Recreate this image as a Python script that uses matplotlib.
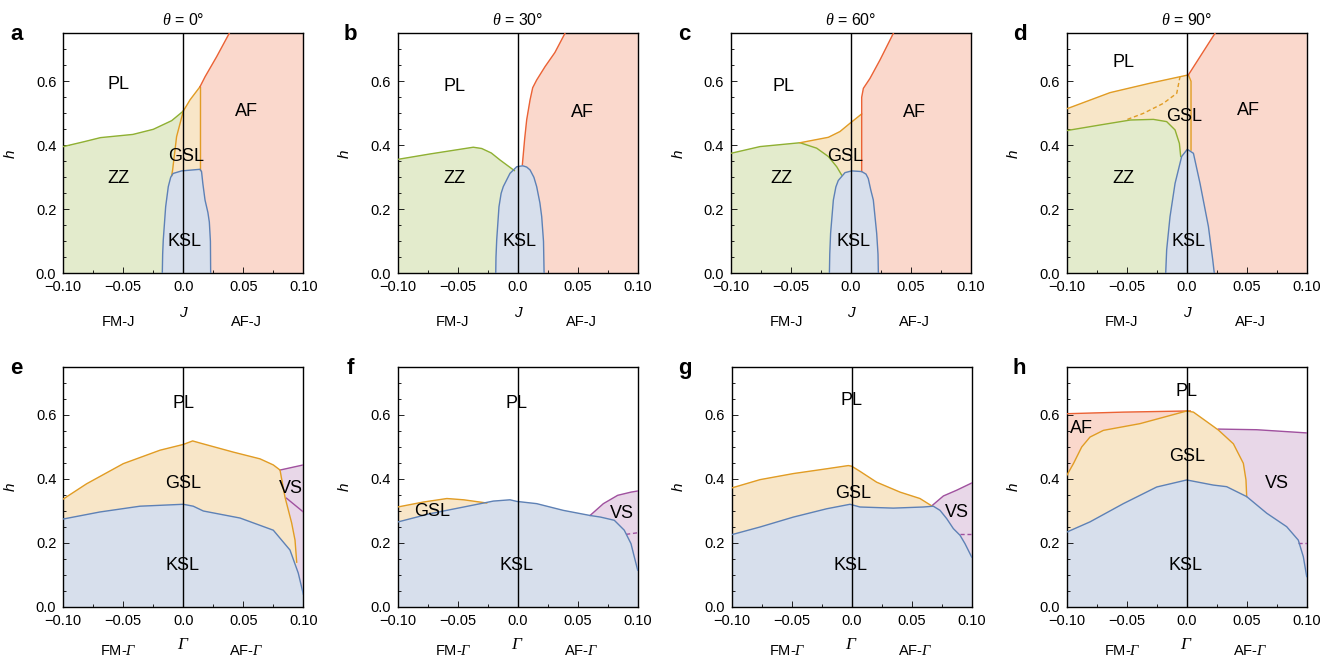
import matplotlib
matplotlib.use("Agg")
import matplotlib.pyplot as plt
from matplotlib.ticker import MultipleLocator

plt.rcParams['font.family'] = ['Liberation Sans', 'DejaVu Sans']
plt.rcParams['mathtext.fontset'] = 'custom'
plt.rcParams['mathtext.it'] = 'Liberation Serif:italic'
# capital Greek goes to the rm slot in mathtext; make it italic serif too
plt.rcParams['mathtext.rm'] = 'Liberation Serif:italic'

XMIN, XMAX, YMAX = -0.1, 0.1, 0.75
X_TICKS = [-0.1, -0.05, 0.0, 0.05, 0.1]
X_TICK_LABELS = ['\u22120.10', '\u22120.05', '0.0', '0.05', '0.10']
Y_TICKS = [0.0, 0.2, 0.4, 0.6]
Y_TICK_LABELS = ['0.0', '0.2', '0.4', '0.6']

THETAS = [0, 30, 60, 90]
LETTERS_TOP = ['a', 'b', 'c', 'd']
LETTERS_BOT = ['e', 'f', 'g', 'h']

LINE = {'ksl': '#5e81b5', 'gsl': '#e19c24', 'zz': '#8fb032', 'af': '#eb6235', 'vs': '#a0519f'}
FILL = {'ksl': '#d7dfec', 'gsl': '#f8e6c8', 'zz': '#e3ebcc', 'af': '#fad8cc', 'vs': '#e8d7e8'}

# ---- panel a (theta = 0, J axis) ----
A_ZZ_TOP = [(-0.1, 0.396), (-0.083, 0.411), (-0.069, 0.424), (-0.042, 0.434), (-0.025, 0.45),
            (-0.0097, 0.477), (0.0, 0.507)]
A_GSL_LEFT = [(0.0, 0.507), (-0.0056, 0.427), (-0.0089, 0.323), (-0.0097, 0.305)]
A_GSL_TOP = [(0.0, 0.507), (0.0056, 0.542), (0.0139, 0.583)]
A_GSL_RIGHT = [(0.0139, 0.583), (0.0139, 0.322)]
A_AF_TOP = [(0.0139, 0.583), (0.0181, 0.614), (0.0278, 0.677), (0.0383, 0.75)]
A_KSL = [(-0.0175, 0.0), (-0.0172, 0.06), (-0.0167, 0.104), (-0.0147, 0.208), (-0.0125, 0.271),
         (-0.0105, 0.3), (-0.0085, 0.312), (-0.0014, 0.32), (0.0139, 0.325), (0.0152, 0.318),
         (0.0163, 0.28), (0.0181, 0.229), (0.0205, 0.19), (0.0217, 0.16), (0.0226, 0.1),
         (0.0228, 0.0)]
A_LABELS = [('PL', -0.054, 0.589), ('AF', 0.0528, 0.505), ('GSL', 0.002, 0.365),
            ('ZZ', -0.0536, 0.297), ('KSL', 0.0014, 0.099)]

# ---- panel b (theta = 30) ----
B_ZZ_TOP = [(-0.1, 0.356), (-0.073, 0.373), (-0.037, 0.394), (-0.03, 0.39), (-0.022, 0.376),
            (-0.0147, 0.354), (-0.0028, 0.321)]
B_AF_EDGE = [(0.0039, 0.34), (0.0058, 0.42), (0.0075, 0.48), (0.0103, 0.542), (0.0125, 0.58),
             (0.0158, 0.604), (0.0228, 0.646), (0.031, 0.69), (0.0394, 0.75)]
B_KSL = [(-0.0183, 0.0), (-0.0181, 0.05), (-0.0175, 0.104), (-0.0156, 0.208), (-0.0138, 0.25),
         (-0.012, 0.271), (-0.0064, 0.3125), (-0.0008, 0.333), (0.0042, 0.336), (0.0075, 0.332),
         (0.0103, 0.323), (0.0135, 0.3), (0.0158, 0.271), (0.0185, 0.22), (0.02, 0.177),
         (0.0215, 0.1), (0.022, 0.0)]
B_LABELS = [('PL', -0.053, 0.585), ('AF', 0.0539, 0.502), ('ZZ', -0.053, 0.297),
            ('KSL', 0.0014, 0.099)]

# ---- panel c (theta = 60) ----
C_ZZ_TOP = [(-0.1, 0.375), (-0.0758, 0.396), (-0.0425, 0.408), (-0.0286, 0.391), (-0.0189, 0.365),
            (-0.0119, 0.333), (-0.0078, 0.307)]
C_GSL_TOP = [(-0.0425, 0.408), (-0.0189, 0.425), (-0.0092, 0.443), (-0.0008, 0.469), (0.0089, 0.498)]
C_AF_EDGE = [(0.0089, 0.318), (0.0089, 0.55), (0.0103, 0.578), (0.0158, 0.609), (0.0242, 0.667),
             (0.0325, 0.729), (0.0353, 0.75)]
C_KSL = [(-0.018, 0.0), (-0.0177, 0.06), (-0.017, 0.125), (-0.0147, 0.229), (-0.0126, 0.27),
         (-0.0106, 0.29), (-0.005, 0.3146), (0.0006, 0.32), (0.0089, 0.318), (0.0125, 0.31),
         (0.0144, 0.296), (0.0165, 0.26), (0.0186, 0.229), (0.0214, 0.125), (0.0225, 0.06),
         (0.0228, 0.0)]
C_LABELS = [('PL', -0.0564, 0.585), ('AF', 0.0533, 0.502), ('GSL', -0.005, 0.365),
            ('ZZ', -0.0578, 0.297), ('KSL', 0.0019, 0.099)]

# ---- panel d (theta = 90) ----
D_GSL_TOP = [(-0.1, 0.514), (-0.0639, 0.5646), (-0.0306, 0.594), (0.0014, 0.62)]
D_GSL_RIGHT = [(0.0014, 0.62), (0.0036, 0.6), (0.0036, 0.385)]
D_AF_TOP = [(0.0014, 0.62), (0.0236, 0.75)]
D_GSL_DASH = [(-0.0494, 0.481), (-0.036, 0.5), (-0.0195, 0.531), (-0.0083, 0.5625), (-0.0056, 0.614)]
D_ZZ_TOP = [(-0.1, 0.446), (-0.0722, 0.4635), (-0.047, 0.479), (-0.0278, 0.481), (-0.0167, 0.474),
            (-0.0097, 0.448), (-0.0061, 0.406), (-0.005, 0.365)]
D_KSL = [(-0.0175, 0.0), (-0.0167, 0.073), (-0.0139, 0.177), (-0.0097, 0.281), (-0.0042, 0.365),
         (0.0005, 0.3875), (0.0056, 0.375), (0.0111, 0.281), (0.0181, 0.146), (0.0217, 0.042),
         (0.023, 0.0)]
D_LABELS = [('PL', -0.0528, 0.658), ('AF', 0.0514, 0.51), ('GSL', -0.0022, 0.49),
            ('ZZ', -0.0528, 0.297), ('KSL', 0.0014, 0.099)]

# ---- panel e (theta = 0, Gamma axis) ----
E_GSL_TOP = [(-0.1, 0.3375), (-0.0806, 0.385), (-0.05, 0.448), (-0.0194, 0.49), (0.0, 0.508),
             (0.0078, 0.519), (0.0139, 0.5125), (0.0417, 0.484), (0.0639, 0.463), (0.075, 0.444),
             (0.0806, 0.428), (0.0847, 0.344), (0.0903, 0.2625), (0.0931, 0.209), (0.0945, 0.14)]
E_VS_TOP = [(0.0806, 0.428), (0.1, 0.444)]
E_VS_DASH = [(0.086, 0.34), (0.1, 0.297)]
E_KSL_TOP = [(-0.1, 0.275), (-0.0694, 0.297), (-0.0361, 0.315), (0.0, 0.321), (0.0083, 0.315),
             (0.0167, 0.3), (0.0473, 0.278), (0.075, 0.24), (0.0889, 0.178), (0.0958, 0.106),
             (0.1, 0.04)]
E_LABELS = [('PL', 0.0, 0.635), ('GSL', 0.0, 0.385), ('VS', 0.0894, 0.37), ('KSL', -0.0008, 0.13)]

# ---- panel f (theta = 30) ----
F_GSL_TOP = [(-0.1, 0.3125), (-0.0786, 0.328), (-0.059, 0.339), (-0.045, 0.335), (-0.0258, 0.325)]
F_VS_TOP = [(0.0603, 0.286), (0.0714, 0.323), (0.0833, 0.349), (0.0944, 0.359), (0.1, 0.3625)]
F_VS_DASH = [(0.0903, 0.227), (0.1, 0.232)]
F_KSL_TOP = [(-0.1, 0.2656), (-0.073, 0.2917), (-0.045, 0.3125), (-0.0203, 0.331), (-0.0064, 0.335),
             (-0.0008, 0.33), (0.0158, 0.323), (0.038, 0.302), (0.0603, 0.286), (0.069, 0.281),
             (0.0805, 0.271), (0.0888, 0.24), (0.0944, 0.198), (0.0972, 0.156), (0.1, 0.115)]
F_LABELS = [('PL', -0.0008, 0.635), ('GSL', -0.0717, 0.297), ('VS', 0.0867, 0.292),
            ('KSL', -0.0008, 0.13)]

# ---- panel g (theta = 60) ----
G_GSL_TOP = [(-0.1, 0.372), (-0.0764, 0.398), (-0.0486, 0.417), (-0.0208, 0.432), (-0.0028, 0.442),
             (0.0, 0.44), (0.0069, 0.424), (0.0208, 0.39), (0.0403, 0.359), (0.0569, 0.339),
             (0.0667, 0.316)]
G_VS_TOP = [(0.0667, 0.316), (0.0764, 0.347), (0.0875, 0.365), (0.1, 0.3875)]
G_VS_DASH = [(0.0903, 0.229), (0.1, 0.229)]
G_KSL_TOP = [(-0.1, 0.226), (-0.0764, 0.25), (-0.0486, 0.281), (-0.0208, 0.307), (-0.0014, 0.321),
             (0.0069, 0.3125), (0.0347, 0.309), (0.0597, 0.3125), (0.068, 0.315), (0.0736, 0.302),
             (0.0792, 0.276), (0.0847, 0.245), (0.0903, 0.224), (0.0944, 0.198), (0.1, 0.156)]
G_LABELS = [('PL', 0.0, 0.646), ('GSL', 0.0008, 0.354), ('VS', 0.0875, 0.294), ('KSL', -0.0008, 0.13)]

# ---- panel h (theta = 90) ----
H_AF_TOP = [(-0.1, 0.604), (-0.0528, 0.609), (0.0, 0.6125), (0.003, 0.6125)]
H_GSL_TOP = [(-0.1, 0.411), (-0.0944, 0.448), (-0.0875, 0.5), (-0.0806, 0.531), (-0.0694, 0.552),
             (-0.0389, 0.573), (0.0, 0.6125), (0.0056, 0.609), (0.0153, 0.583), (0.0264, 0.553),
             (0.0389, 0.51), (0.0472, 0.449), (0.0494, 0.397), (0.05, 0.345)]
H_VS_TOP = [(0.0264, 0.556), (0.0583, 0.554), (0.1, 0.544)]
H_VS_DASH = [(0.093, 0.199), (0.1, 0.199)]
H_KSL_TOP = [(-0.1, 0.234), (-0.0806, 0.266), (-0.0528, 0.323), (-0.025, 0.375), (0.0, 0.397),
             (0.0222, 0.381), (0.0333, 0.376), (0.05, 0.345), (0.0667, 0.293), (0.0833, 0.251),
             (0.093, 0.209), (0.0972, 0.157), (0.1, 0.095)]
H_LABELS = [('PL', 0.0, 0.672), ('AF', -0.0875, 0.557), ('GSL', 0.0, 0.469), ('VS', 0.075, 0.385),
            ('KSL', -0.0014, 0.13)]


def under(curve):
    return curve + [(curve[-1][0], 0.0), (curve[0][0], 0.0)]


def right_of(curve):
    return curve + [(XMAX, curve[-1][1]), (XMAX, 0.0), (curve[0][0], 0.0)]


def fill(ax, pts, key):
    xs, ys = zip(*pts)
    ax.fill(xs, ys, color=FILL[key], lw=0.3, ec=FILL[key], zorder=1)


def edge(ax, pts, key, ls='-'):
    xs, ys = zip(*pts)
    ax.plot(xs, ys, color=LINE[key], lw=1.0, ls=ls, zorder=3, solid_joinstyle='round')


def labels(ax, items):
    for txt, x, y in items:
        ax.text(x, y, txt, ha='center', va='center', fontsize=13, zorder=5)


def setup(ax, var, left_lab, right_lab, y_var, y_lab, var_size):
    ax.set_xlim(XMIN, XMAX)
    ax.set_ylim(0, YMAX)
    ax.set_xticks(X_TICKS)
    ax.set_xticklabels(X_TICK_LABELS)
    ax.set_yticks(Y_TICKS)
    ax.set_yticklabels(Y_TICK_LABELS)
    ax.xaxis.set_minor_locator(MultipleLocator(0.025))
    ax.yaxis.set_minor_locator(MultipleLocator(0.05))
    ax.tick_params(which='both', direction='in', labelsize=10.5, pad=5, width=0.6)
    ax.tick_params(which='major', length=4)
    ax.tick_params(which='minor', length=2.5)
    for s in ax.spines.values():
        s.set_linewidth(1.0)
    ax.axvline(0, color='k', lw=1.0, zorder=4)
    ax.set_ylabel('h', style='italic', fontsize=11)
    ax.yaxis.set_label_coords(-0.19, 0.5)
    ax.text(0.5, y_var, var, transform=ax.transAxes, ha='center', va='center', fontsize=var_size,
            style='italic')
    ax.text(0.23, y_lab, left_lab, transform=ax.transAxes, ha='center', va='center', fontsize=10.5)
    ax.text(0.764, y_lab, right_lab, transform=ax.transAxes, ha='center', va='center', fontsize=10.5)


fig = plt.figure(figsize=(13.23, 6.6), dpi=100)
W, H = 1323.0, 660.0
lefts = [63.3, 397.7, 731.0, 1066.7]
lefts_bot = [63.3, 397.7, 731.7, 1066.7]
tops = [33.3, 367.0]
axes_top = [fig.add_axes([l / W, 1 - (tops[0] + 240) / H, 240 / W, 240 / H]) for l in lefts]
axes_bot = [fig.add_axes([l / W, 1 - (tops[1] + 240) / H, 240 / W, 240 / H]) for l in lefts_bot]

# panel a
ax = axes_top[0]
fill(ax, under(A_GSL_LEFT[::-1] + A_GSL_TOP), 'gsl')
fill(ax, under(A_ZZ_TOP + A_GSL_LEFT[1:]), 'zz')
fill(ax, right_of(A_GSL_RIGHT[::-1] + A_AF_TOP[1:]), 'af')
fill(ax, A_KSL, 'ksl')
edge(ax, A_ZZ_TOP, 'zz')
edge(ax, A_GSL_LEFT, 'gsl')
edge(ax, A_GSL_TOP, 'gsl')
edge(ax, A_GSL_RIGHT, 'gsl')
edge(ax, A_AF_TOP, 'af')
edge(ax, A_KSL, 'ksl')
labels(ax, A_LABELS)

# panel b
ax = axes_top[1]
fill(ax, under(B_ZZ_TOP), 'zz')
fill(ax, right_of(B_AF_EDGE), 'af')
fill(ax, B_KSL, 'ksl')
edge(ax, B_ZZ_TOP, 'zz')
edge(ax, B_AF_EDGE, 'af')
edge(ax, B_KSL, 'ksl')
labels(ax, B_LABELS)

# panel c
ax = axes_top[2]
fill(ax, under(C_GSL_TOP + [(C_AF_EDGE[0][0], C_GSL_TOP[-1][1])]), 'gsl')
fill(ax, under(C_ZZ_TOP), 'zz')
fill(ax, right_of(C_AF_EDGE), 'af')
fill(ax, C_KSL, 'ksl')
edge(ax, C_ZZ_TOP, 'zz')
edge(ax, C_GSL_TOP, 'gsl')
edge(ax, C_AF_EDGE, 'af')
edge(ax, C_KSL, 'ksl')
labels(ax, C_LABELS)

# panel d
ax = axes_top[3]
fill(ax, under(D_GSL_TOP + D_GSL_RIGHT[1:]), 'gsl')
fill(ax, under(D_ZZ_TOP), 'zz')
fill(ax, right_of(D_GSL_RIGHT[::-1] + D_AF_TOP[1:]), 'af')
fill(ax, D_KSL, 'ksl')
edge(ax, D_GSL_TOP, 'gsl')
edge(ax, D_GSL_RIGHT, 'gsl')
edge(ax, D_AF_TOP, 'af')
edge(ax, D_GSL_DASH, 'gsl', ls=(0, (3, 2)))
edge(ax, D_ZZ_TOP, 'zz')
edge(ax, D_KSL, 'ksl')
labels(ax, D_LABELS)

# panel e
ax = axes_bot[0]
fill(ax, under(E_VS_TOP), 'vs')
fill(ax, under(E_GSL_TOP), 'gsl')
fill(ax, under(E_KSL_TOP), 'ksl')
edge(ax, E_VS_TOP, 'vs')
edge(ax, E_VS_DASH, 'vs')
edge(ax, E_GSL_TOP, 'gsl')
edge(ax, E_KSL_TOP, 'ksl')
labels(ax, E_LABELS)

# panel f
ax = axes_bot[1]
fill(ax, under(F_VS_TOP), 'vs')
fill(ax, under(F_GSL_TOP), 'gsl')
fill(ax, under(F_KSL_TOP), 'ksl')
edge(ax, F_VS_TOP, 'vs')
edge(ax, F_VS_DASH, 'vs', ls=(0, (3, 2)))
edge(ax, F_GSL_TOP, 'gsl')
edge(ax, F_KSL_TOP, 'ksl')
labels(ax, F_LABELS)

# panel g
ax = axes_bot[2]
fill(ax, under(G_VS_TOP), 'vs')
fill(ax, under(G_GSL_TOP), 'gsl')
fill(ax, under(G_KSL_TOP), 'ksl')
edge(ax, G_VS_TOP, 'vs')
edge(ax, G_VS_DASH, 'vs', ls=(0, (3, 2)))
edge(ax, G_GSL_TOP, 'gsl')
edge(ax, G_KSL_TOP, 'ksl')
labels(ax, G_LABELS)

# panel h
ax = axes_bot[3]
fill(ax, under(H_AF_TOP), 'af')
fill(ax, under(H_VS_TOP), 'vs')
fill(ax, under(H_GSL_TOP), 'gsl')
fill(ax, under(H_KSL_TOP), 'ksl')
edge(ax, H_AF_TOP, 'af')
edge(ax, H_VS_TOP, 'vs')
edge(ax, H_VS_DASH, 'vs', ls=(0, (3, 2)))
edge(ax, H_GSL_TOP, 'gsl')
edge(ax, H_KSL_TOP, 'ksl')
labels(ax, H_LABELS)

for ax, th in zip(axes_top, THETAS):
    setup(ax, 'J', 'FM-J', 'AF-J', -0.165, -0.205, 11)
    ax.set_title(r'$\mathit{\theta}$ = ' + f'{th}\u00b0', fontsize=11.5, pad=6)
for ax in axes_bot:
    setup(ax, r'$\Gamma$', r'FM-$\Gamma$', r'AF-$\Gamma$', -0.155, -0.182, 12.5)

for row, letters in ((axes_top, LETTERS_TOP), (axes_bot, LETTERS_BOT)):
    for ax, let in zip(row, letters):
        x0, y0, w, h = ax.get_position().bounds
        fig.text(x0 - 47 / W, y0 + h - 7 / H, let, fontsize=16, fontweight='bold',
                 ha='center', va='baseline')

fig.savefig('out.png', dpi=100)
